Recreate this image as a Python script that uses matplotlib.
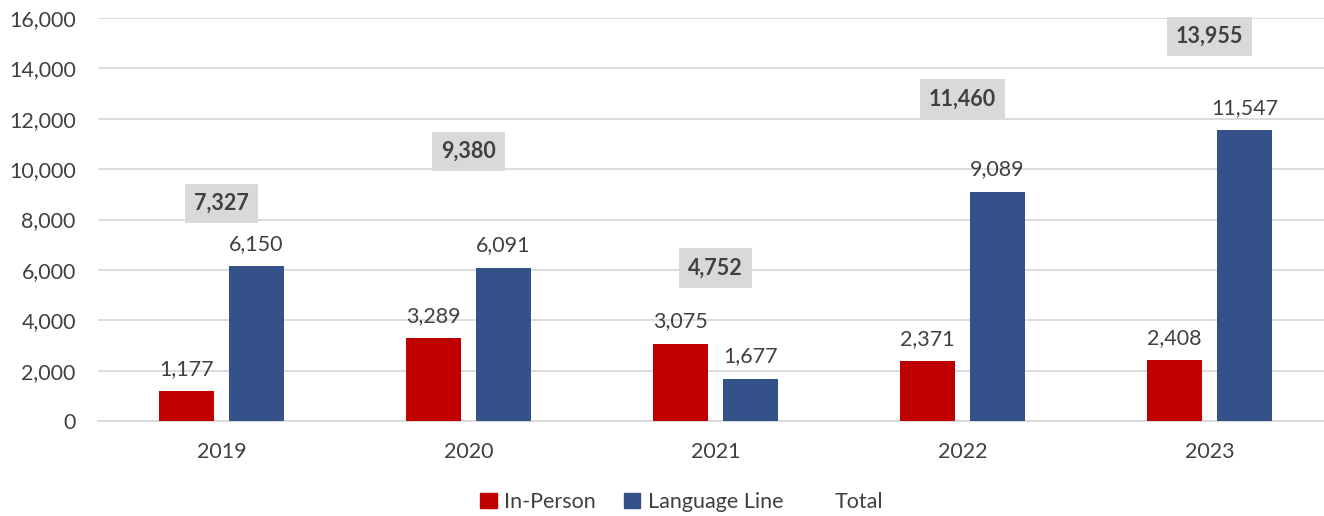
import matplotlib.pyplot as plt
import numpy as np
from matplotlib.lines import Line2D
from matplotlib.patches import Patch

years = ['2019', '2020', '2021', '2022', '2023']
in_person = [1177, 3289, 3075, 2371, 2408]
language_line = [6150, 6091, 1677, 9089, 11547]
total = [7327, 9380, 4752, 11460, 13955]

red = '#C00000'
blue = '#345189'
txt = '#404040'

plt.rcParams['font.family'] = ['Lato', 'DejaVu Sans']

fig = plt.figure(figsize=(13.24, 5.16), dpi=100)
W, H = 1324, 516
ax = fig.add_axes([98 / W, (H - 421) / H, 5 * 247 / W, 403 / H])

x = np.arange(len(years))
w = 0.223
off = 0.142
fs = 15.5
ax.bar(x - off, in_person, w, color=red, zorder=3)
ax.bar(x + off, language_line, w, color=blue, zorder=3)

for xi, v in zip(x - off, in_person):
    ax.annotate(f'{v:,}', (xi, v), xytext=(0, 9), textcoords='offset points',
                ha='center', va='bottom', fontsize=fs, color=txt)
for xi, v in zip(x + off, language_line):
    ax.annotate(f'{v:,}', (xi, v), xytext=(0, 9), textcoords='offset points',
                ha='center', va='bottom', fontsize=fs, color=txt)
for xi, v in zip(x, total):
    ax.annotate(f'{v:,}', (xi, v), xytext=(0, 24), textcoords='offset points',
                ha='center', va='center', fontsize=fs, color=txt, fontweight='bold',
                bbox=dict(boxstyle='square,pad=0.42', fc='#D9D9D9', ec='none'))

ax.set_xlim(-0.5, 4.5)
ax.set_ylim(0, 16000)
ax.set_yticks(np.arange(0, 16001, 2000))
ax.set_yticklabels([f'{v:,}' for v in range(0, 16001, 2000)])
ax.set_xticks(x)
ax.set_xticklabels(years)
ax.tick_params(axis='both', length=0, labelsize=fs, labelcolor=txt)
ax.tick_params(axis='y', pad=16)
ax.tick_params(axis='x', pad=15)
ax.grid(axis='y', color='#D9D9D9', linewidth=1.3, zorder=0)
ax.set_axisbelow(True)
for s in ['top', 'right', 'left']:
    ax.spines[s].set_visible(False)
ax.spines['bottom'].set_color('#D9D9D9')
ax.spines['bottom'].set_linewidth(1.3)

handles = [Patch(color=red), Patch(color=blue), Line2D([], [], color='none')]
fig.legend(handles, ['In-Person', 'Language Line', 'Total'], loc='center',
           bbox_to_anchor=(0.515, 14 / H), ncol=3, frameon=False, fontsize=fs,
           labelcolor=txt, handlelength=0.75, handleheight=0.75, handletextpad=0.35,
           columnspacing=1.3)

fig.savefig('out.png', dpi=100)
